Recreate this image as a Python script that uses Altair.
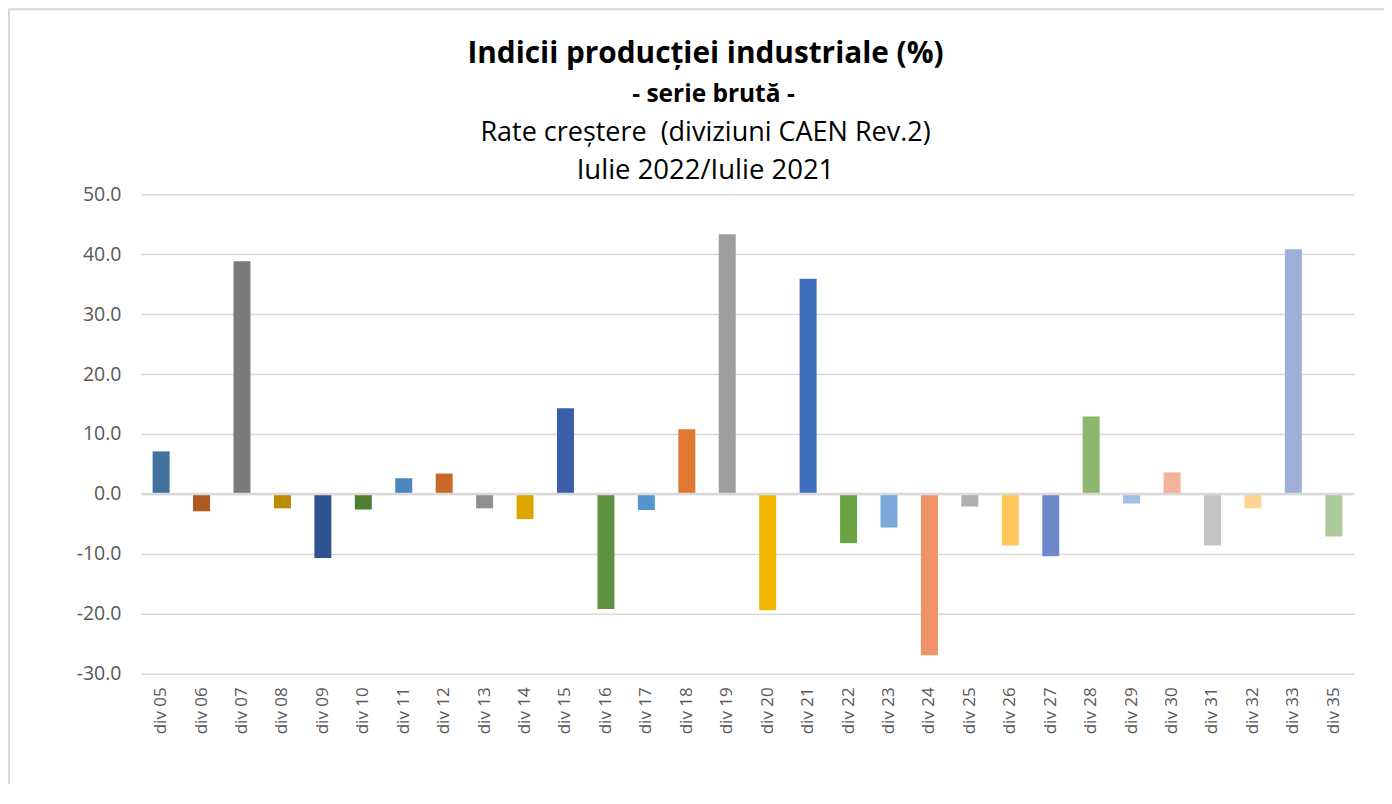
import altair as alt
import pandas as pd

categories = ["div 05", "div 06", "div 07", "div 08", "div 09", "div 10", "div 11", "div 12",
              "div 13", "div 14", "div 15", "div 16", "div 17", "div 18", "div 19", "div 20",
              "div 21", "div 22", "div 23", "div 24", "div 25", "div 26", "div 27", "div 28",
              "div 29", "div 30", "div 31", "div 32", "div 33", "div 35"]
values = [7.1, -2.9, 38.8, -2.4, -10.7, -2.6, 2.6, 3.4,
          -2.4, -4.2, 14.3, -19.2, -2.7, 10.8, 43.3, -19.4,
          35.9, -8.2, -5.6, -26.9, -2.1, -8.6, -10.4, 12.9,
          -1.6, 3.6, -8.6, -2.4, 40.8, -7.1]
colors = ["#41719C", "#AE5A21", "#7B7B7B", "#BC8C00", "#2F5290", "#507E32", "#4E86BE", "#C8682A",
          "#8F8F8F", "#DCA500", "#3A5FA8", "#5F9340", "#5694CF", "#E07830", "#9E9E9E", "#F2B800",
          "#3F6FBC", "#6BA543", "#7BA9DA", "#F09269", "#B0B0B0", "#FFC65A", "#6E89CA", "#8BB86E",
          "#A3C0E4", "#F3B39B", "#C4C4C4", "#FFD593", "#9FAFD9", "#ADCA9C"]
y_ticks = [-30, -20, -10, 0, 10, 20, 30, 40, 50]

title_line1 = "Indicii producției industriale (%)"
title_line2 = "- serie brută -"
title_line3 = "Rate creștere \u00a0(diviziuni CAEN Rev.2)"
title_line4 = "Iulie 2022/Iulie 2021"

df = pd.DataFrame({"cat": categories, "val": values})

W, H = 1214, 480
FONT = "Open Sans"

bars = alt.Chart(df).mark_bar(size=17).encode(
    x=alt.X("cat:N", sort=None, title=None,
            scale=alt.Scale(paddingInner=0, paddingOuter=0),
            axis=alt.Axis(labelAngle=-90, labelPadding=13, ticks=False, domain=False,
                          labelFont=FONT, labelFontSize=17, labelColor="#595959",
                          grid=False)),
    y=alt.Y("val:Q", title=None,
            scale=alt.Scale(domain=[-30, 50], nice=False, zero=False),
            axis=alt.Axis(values=y_ticks, ticks=False, domain=False,
                          labelExpr="datum.value < 0 ? '-' + format(-datum.value, '.1f') : format(datum.value, '.1f')",
                          labelFont=FONT, labelFontSize=19.5, labelColor="#595959",
                          labelPadding=20, labelFlush=False, labelOverlap=False,
                          gridColor="#D9D9D9", gridWidth=1.5)),
    color=alt.Color("cat:N", scale=alt.Scale(domain=categories, range=colors), legend=None),
)

zero = alt.Chart(alt.Data(values=[{"z": 0}])).mark_rule(color="#D9D9D9", strokeWidth=2.5).encode(
    y=alt.Y("z:Q"), x=alt.value(0), x2=alt.value(W)
)

border = alt.Chart(alt.Data(values=[{"b": 1}])).mark_rect(
    fillOpacity=0, stroke="#D9D9D9", strokeWidth=2
).encode(x=alt.value(-132), x2=alt.value(1400), y=alt.value(-185), y2=alt.value(900))

cx = 565
t1 = alt.Chart(alt.Data(values=[{"t": title_line1}])).mark_text(
    font=FONT, fontSize=29.8, fontWeight="bold", color="#000000", align="center", baseline="alphabetic"
).encode(text="t:N", x=alt.value(cx), y=alt.value(-131))
t2 = alt.Chart(alt.Data(values=[{"t": title_line2}])).mark_text(
    font=FONT, fontSize=24.5, fontWeight="bold", color="#000000", align="center", baseline="alphabetic"
).encode(text="t:N", x=alt.value(cx + 8), y=alt.value(-92))
t3 = alt.Chart(alt.Data(values=[{"t": title_line3}])).mark_text(
    font=FONT, fontSize=27, color="#000000", align="center", baseline="alphabetic"
).encode(text="t:N", x=alt.value(cx), y=alt.value(-53))
t4 = alt.Chart(alt.Data(values=[{"t": title_line4}])).mark_text(
    font=FONT, fontSize=27.5, color="#000000", align="center", baseline="alphabetic"
).encode(text="t:N", x=alt.value(cx), y=alt.value(-15))

chart = alt.layer(border, bars, zero, t1, t2, t3, t4).properties(
    width=W, height=H,
    autosize=alt.AutoSizeParams(type="none"),
    padding={"left": 133, "top": 186, "right": 30, "bottom": 110},
).configure_view(stroke=None)

chart.save("out.html", embed_options={"renderer": "svg", "actions": False})
